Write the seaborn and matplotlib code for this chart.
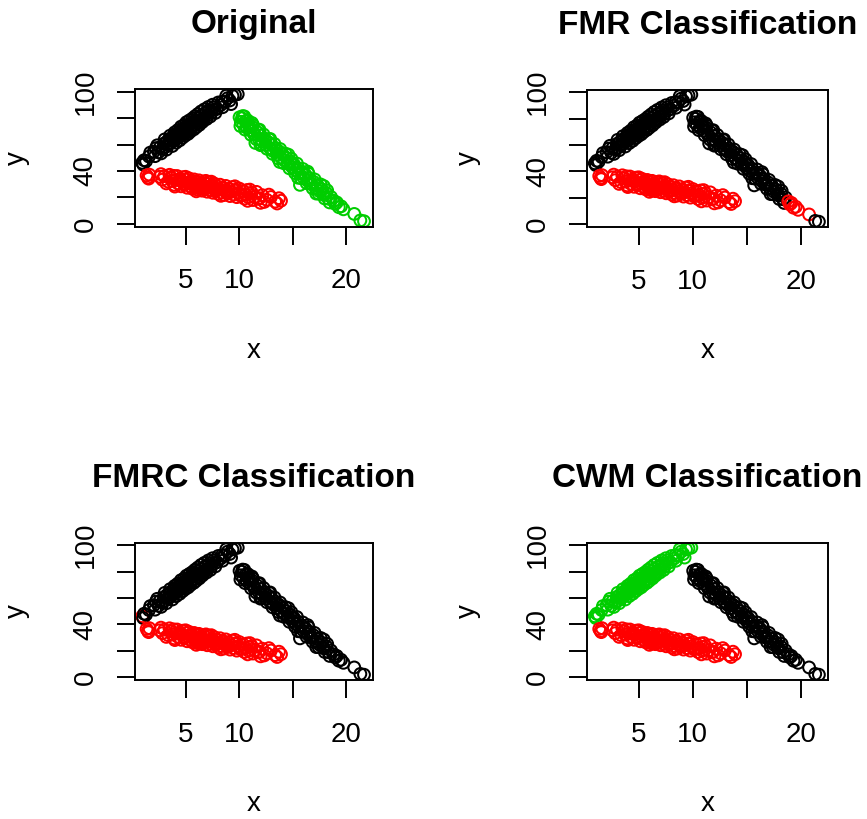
import matplotlib
matplotlib.use("Agg")
import matplotlib.pyplot as plt
import seaborn as sns
import pandas as pd

# group 1: rising band
a_x = [0.95, 1.12, 1.31, 1.58, 2.04, 2.23, 2.47, 2.61, 2.85, 2.98,
       3.14, 3.27, 3.42, 3.49, 3.63, 3.71, 3.84, 3.93, 4.02, 4.15,
       4.21, 4.33, 4.38, 4.52, 4.61, 4.68, 4.83, 4.91, 5.04, 5.12,
       5.18, 5.33, 5.41, 5.52, 5.58, 5.71, 5.83, 5.94, 6.08, 6.22,
       6.37, 6.51, 6.66, 6.88, 7.03, 7.21, 7.39, 7.62, 7.94, 8.28,
       8.66, 8.93, 9.12, 9.38, 9.61, 9.87,
       1.05, 1.70, 2.15, 2.35, 2.72, 3.05, 3.21, 3.55, 3.77, 3.98,
       4.12, 4.27, 4.45, 4.57, 4.74, 4.86, 4.97, 5.08, 5.24, 5.37,
       5.47, 5.64, 5.77, 5.88, 6.01, 6.15, 6.29, 6.44, 6.58, 6.75,
       6.96, 7.12, 7.31, 7.52, 7.78, 8.05, 8.45, 8.80, 9.25,
       3.35, 3.88, 4.48, 4.95, 5.45, 5.98, 6.55, 7.10, 7.70, 8.40]
a_y = [46.2, 48.1, 47.5, 50.9, 54.6, 57.3, 54.1, 57.9, 56.8, 60.7,
       58.2, 62.4, 60.1, 63.8, 61.3, 65.2, 62.6, 66.9, 63.4, 67.8,
       64.9, 69.1, 66.0, 70.4, 67.2, 71.3, 68.4, 72.6, 69.9, 73.8,
       70.6, 74.9, 71.8, 76.0, 73.2, 77.4, 74.6, 78.5, 76.1, 80.2,
       77.8, 82.0, 79.6, 84.1, 82.0, 86.2, 84.0, 88.3, 87.1, 89.9,
       92.4, 95.1, 93.3, 96.8, 97.6, 98.1,
       44.8, 53.9, 51.2, 59.4, 53.3, 63.9, 56.1, 66.7, 58.9, 69.2,
       61.4, 70.9, 63.2, 73.5, 65.3, 74.8, 66.8, 76.9, 68.1, 78.3,
       69.9, 79.7, 71.5, 81.4, 73.2, 83.1, 74.9, 85.0, 77.1, 86.6,
       79.3, 88.4, 81.2, 90.1, 83.9, 91.8, 88.2, 96.9, 90.6,
       60.3, 65.4, 67.1, 71.6, 72.8, 77.9, 79.4, 84.5, 86.3, 92.3]

# group 2: shallow falling band
b_x = [1.36, 1.48, 1.62, 2.58, 2.83, 3.02, 3.38, 3.61, 3.87, 4.09,
       4.27, 4.48, 4.66, 4.88, 5.07, 5.21, 5.39, 5.57, 5.72, 5.88,
       6.03, 6.17, 6.31, 6.46, 6.62, 6.79, 6.95, 7.11, 7.28, 7.47,
       7.61, 7.79, 7.98, 8.13, 8.31, 8.49, 8.68, 8.87, 9.04, 9.26,
       9.48, 9.69, 9.91, 10.12, 10.38, 10.61, 10.87, 11.18, 11.46, 11.79,
       12.16, 12.58, 12.97, 13.36, 13.72, 13.91,
       1.55, 2.70, 3.20, 3.50, 3.95, 4.20, 4.58, 4.76, 5.15, 5.30,
       5.65, 5.80, 6.10, 6.25, 6.55, 6.70, 7.02, 7.20, 7.55, 7.70,
       8.05, 8.22, 8.58, 8.76, 9.15, 9.36, 9.78, 10.02, 10.50, 10.74,
       11.30, 11.62, 12.35, 12.78, 13.55,
       3.75, 4.40, 4.95, 5.45, 5.95, 6.15, 6.40, 6.88, 7.35, 7.85,
       8.40, 8.95, 9.58, 10.25, 10.95, 11.90,
       4.00, 5.00, 6.00, 6.90, 7.40, 8.30, 9.60, 10.80, 11.00, 12.00]
b_y = [36.6, 35.1, 37.2, 35.6, 33.4, 36.1, 31.9, 34.8, 36.3, 33.2,
       30.7, 34.1, 32.3, 29.6, 33.4, 31.2, 28.7, 32.6, 30.1, 27.9,
       31.7, 29.4, 27.1, 30.9, 28.6, 26.4, 30.2, 27.7, 25.6, 29.3,
       26.8, 24.7, 28.2, 25.9, 23.8, 27.4, 25.1, 23.0, 26.6, 24.2,
       22.1, 25.8, 23.4, 21.3, 24.9, 22.0, 20.1, 23.6, 20.4, 18.9,
       21.7, 18.2, 20.3, 16.8, 19.4, 17.5,
       34.2, 37.6, 30.6, 37.1, 29.5, 36.2, 28.4, 35.3, 27.3, 34.5,
       26.5, 33.6, 25.9, 32.9, 25.1, 32.0, 24.3, 31.4, 23.5, 30.4,
       22.7, 29.6, 21.8, 28.7, 21.0, 27.8, 20.2, 26.7, 19.1, 25.6,
       18.0, 24.2, 16.6, 22.1, 15.4,
       32.4, 33.1, 30.4, 31.8, 28.9, 27.8, 30.2, 27.0, 28.6, 25.5,
       27.1, 23.8, 25.3, 21.9, 23.0, 19.4,
       28.2, 35.6, 24.6, 32.5, 31.9, 21.2, 28.4, 17.4, 25.9, 15.9]

# group 3: steep falling band (the last nine points are the lower tail)
c_x = [11.20, 11.90, 12.00, 12.90, 13.80, 14.60, 15.50, 16.40, 17.20, 17.90,
       10.95, 11.45, 12.45, 13.00, 13.48, 14.52, 15.05, 15.58, 16.12, 16.68,
       17.24, 17.82,
       10.12, 10.33, 10.55, 10.80, 11.10, 11.30, 11.60, 11.78, 12.10, 12.28,
       12.60, 12.80, 13.12, 13.30, 13.64, 13.83, 14.15, 14.33, 14.69, 14.88,
       15.22, 15.40, 15.76, 15.95, 16.30, 16.48, 16.86, 17.05, 17.42, 17.61,
       17.99, 18.22, 18.45,
       10.04, 10.16, 10.27, 10.39, 10.48, 10.61, 10.73, 10.86, 11.02, 11.19,
       11.38, 11.52, 11.67, 11.84, 12.01, 12.19, 12.36, 12.52, 12.71, 12.88,
       13.04, 13.21, 13.39, 13.56, 13.72, 13.91, 14.07, 14.24, 14.43, 14.61,
       14.78, 14.96, 15.13, 15.31, 15.49, 15.68, 15.84, 16.02, 16.21, 16.39,
       16.58, 16.77, 16.95, 17.14, 17.33, 17.52, 17.71, 17.93, 18.14, 18.36,
       18.58,
       18.84, 18.97, 19.12, 19.31, 19.52, 19.74, 20.75, 21.32, 21.66]
c_y = [76.3, 71.2, 59.5, 64.2, 46.8, 52.3, 34.9, 39.5, 22.9, 28.6,
       73.5, 67.8, 62.9, 56.9, 55.6, 46.3, 44.5, 38.6, 36.9, 30.8,
       29.1, 22.8,
       74.0, 81.5, 71.3, 78.2, 67.4, 74.6, 64.1, 71.0, 60.2, 67.6,
       56.8, 63.9, 53.0, 60.4, 49.5, 56.6, 45.9, 53.1, 42.0, 49.2,
       38.4, 45.6, 34.6, 41.5, 30.8, 37.9, 26.9, 33.6, 22.9, 29.8,
       19.2, 25.3, 16.2,
       80.6, 77.2, 79.9, 75.1, 81.3, 77.8, 72.6, 75.9, 70.8, 73.4,
       67.9, 61.2, 69.5, 64.3, 66.8, 62.1, 64.7, 59.6, 61.9, 57.2,
       59.8, 54.9, 57.3, 52.4, 54.9, 50.1, 52.6, 47.8, 49.9, 45.2,
       47.3, 42.8, 44.9, 40.3, 42.1, 29.5, 39.4, 35.1, 37.0, 32.6,
       34.4, 29.9, 31.8, 27.2, 29.1, 24.6, 26.3, 21.8, 23.4, 19.0,
       20.3,
       17.4, 15.1, 16.2, 12.6, 13.3, 11.0, 7.5, 2.6, 2.0]

na, nb, nc = len(a_x), len(b_x), len(c_x)

# class colours for each panel, in point order (group 1, 2, 3)
original_cls = ["black"] * na + ["red"] * nb + ["green"] * nc
fmr_cls = ["black"] * na + ["red"] * nb + ["black"] * (nc - 9) + ["red"] * 7 + ["black"] * 2
fmrc_cls = ["red"] + ["black"] * (na - 1) + ["red"] * nb + ["black"] * nc
cwm_cls = ["green"] * na + ["red"] * nb + ["black"] * nc

titles = ["Original", "FMR Classification", "FMRC Classification", "CWM Classification"]
x_ticks = [5, 10, 15, 20]
x_tick_labels = ["5", "10", "", "20"]
y_ticks = [0, 20, 40, 60, 80, 100]
y_tick_labels = ["0", "", "40", "", "", "100"]

palette = {"black": "#000000", "red": "#FF0000", "green": "#00CD00"}

sns.set_style("ticks", {"axes.edgecolor": "black", "xtick.color": "black",
                        "ytick.color": "black", "text.color": "black",
                        "axes.labelcolor": "black"})
plt.rcParams["font.family"] = ["Liberation Sans", "DejaVu Sans"]

W, H = 867, 819
fig = plt.figure(figsize=(W / 100, H / 100), dpi=100)

# axes boxes in pixels: left, top, width, height
boxes = [(134.5, 89, 238.5, 137.5), (587, 89.5, 241, 137.5),
         (134.5, 542.5, 238.5, 137.5), (587, 542.5, 241, 137.5)]

xs = a_x + b_x + c_x
ys = a_y + b_y + c_y

for title, cls, (l, t, w, h) in zip(titles, [original_cls, fmr_cls, fmrc_cls, cwm_cls], boxes):
    ax = fig.add_axes([l / W, 1 - (t + h) / H, w / W, h / H])
    df = pd.DataFrame({"x": xs, "y": ys, "cls": cls})
    sns.scatterplot(data=df, x="x", y="y", hue="cls", palette=palette,
                    s=72, linewidth=1.45, legend=False, ax=ax)
    pts = ax.collections[0]
    pts.set_edgecolors(pts.get_facecolors())
    pts.set_facecolors("none")

    ax.set_xlim(0.23, 22.5)
    ax.set_ylim(-2.0, 102.0)
    ax.set_xticks(x_ticks)
    ax.set_xticklabels(x_tick_labels)
    ax.set_yticks(y_ticks)
    ax.set_yticklabels(y_tick_labels, rotation=90, va="center")
    ax.tick_params(axis="both", direction="out", length=13, width=1.4,
                   labelsize=20, color="black", labelcolor="black",
                   bottom=True, left=True)
    ax.tick_params(axis="x", pad=17)
    ax.tick_params(axis="y", pad=13)
    for sp in ax.spines.values():
        sp.set_visible(True)
        sp.set_linewidth(1.4)
        sp.set_color("black")

    ax.set_title(title, fontsize=24, fontweight="bold", pad=40)
    ax.set_xlabel("x", fontsize=20)
    ax.set_ylabel("y", fontsize=20)
    ax.xaxis.label.set_va("baseline")
    ax.xaxis.set_label_coords(0.5, -0.956)
    ax.yaxis.set_label_coords(-0.44, 0.5)

fig.savefig("out.png", dpi=100)
